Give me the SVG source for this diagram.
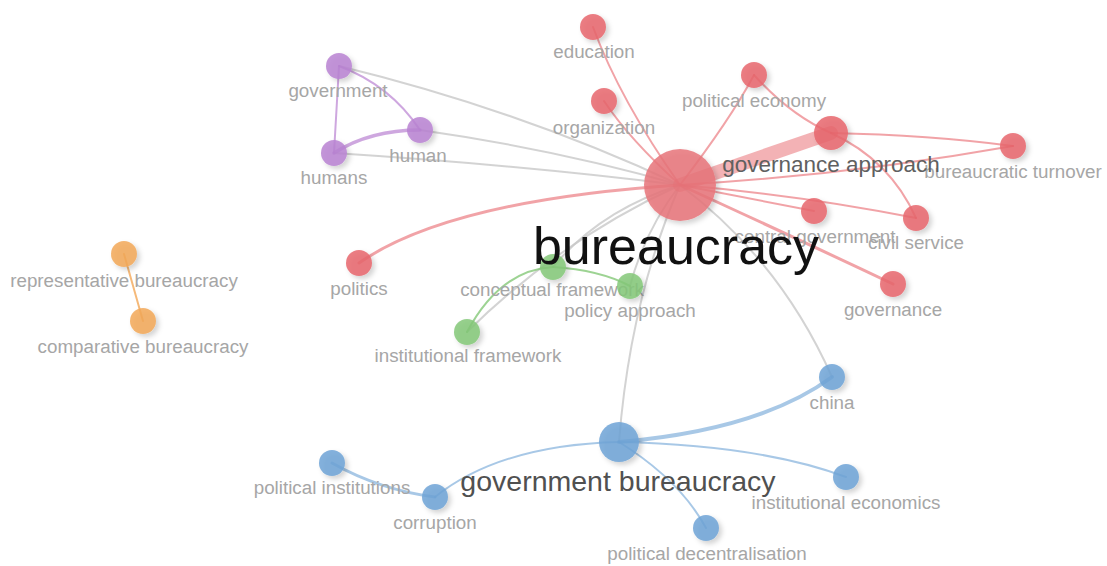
<svg xmlns="http://www.w3.org/2000/svg" width="1107" height="566" viewBox="0 0 1107 566">
<defs>
<filter id="sh" x="-50%" y="-50%" width="200%" height="200%">
<feDropShadow dx="3" dy="3" stdDeviation="2.5" flood-color="#000" flood-opacity="0.2"/>
</filter>
</defs>
<style>
text{font-family:"Liberation Sans",Arial,sans-serif;text-anchor:middle}
.lb{font-size:18.8px;fill:#a6a6a6}
.e{fill:none;stroke-linecap:round}
.g{stroke:#c8c8c8;stroke-opacity:0.8;stroke-width:2}
.r{stroke:#e8666c;stroke-opacity:0.6;stroke-width:2}
.p{stroke:#b982d2;stroke-opacity:0.7;stroke-width:2}
.gr{stroke:#84c878;stroke-opacity:0.8;stroke-width:2}
.o{stroke:#f2a858;stroke-opacity:0.8;stroke-width:2}
.b{stroke:#6ea3d6;stroke-opacity:0.6;stroke-width:2}
.nr{fill:#e8666c;fill-opacity:0.85;filter:url(#sh)}
.np{fill:#b982d2;fill-opacity:0.85;filter:url(#sh)}
.ng{fill:#84c878;fill-opacity:0.85;filter:url(#sh)}
.no{fill:#f2a858;fill-opacity:0.85;filter:url(#sh)}
.nb{fill:#6ea3d6;fill-opacity:0.85;filter:url(#sh)}
</style>
<rect width="1107" height="566" fill="#fff"/>
<g id="connectors">
<path class="e g" d="M680,185 Q520,110 339,66"/>
<path class="e g" d="M680,185 Q560,150 420,130"/>
<path class="e g" d="M680,185 Q520,165 334,153"/>
<path class="e g" d="M680,185 Q600,210 553,267"/>
<path class="e g" d="M680,185 Q560,240 467,332"/>
<path class="e g" d="M680,185 Q645,230 630,286"/>
<path class="e g" d="M680,185 Q630,300 619,442"/>
<path class="e g" d="M680,185 Q780,260 832,377"/>
<path class="e r" d="M680,185 Q620,100 593,27"/>
<path class="e r" d="M680,185 Q630,140 604,101"/>
<path class="e r" d="M680,185 Q730,120 754,75"/>
<path class="e r" style="stroke-width:14;stroke-opacity:0.5" d="M680,185 L831,133"/>
<path class="e r" d="M680,185 Q850,175 1013,146"/>
<path class="e r" d="M680,185 L814,211"/>
<path class="e r" d="M680,185 Q800,195 916,218"/>
<path class="e r" style="stroke-width:3" d="M680,185 Q800,240 893,284"/>
<path class="e r" style="stroke-width:3" d="M680,185 Q450,200 359,263"/>
<path class="e r" d="M754,75 Q790,115 831,133"/>
<path class="e r" d="M831,133 Q930,135 1013,146"/>
<path class="e r" d="M831,133 Q890,160 916,218"/>
<path class="e p" d="M339,66 L334,153"/>
<path class="e p" d="M339,66 Q390,85 420,130"/>
<path class="e p" style="stroke-width:3.5" d="M334,153 Q370,130 420,130"/>
<path class="e gr" d="M467,332 Q500,270 553,267"/>
<path class="e gr" d="M553,267 Q600,270 630,286"/>
<path class="e o" d="M124,254 L143,321"/>
<path class="e b" style="stroke-width:4" d="M619,442 Q760,430 832,377"/>
<path class="e b" d="M619,442 Q500,445 435,497"/>
<path class="e b" d="M619,442 Q760,445 846,477"/>
<path class="e b" d="M619,442 Q680,480 706,528"/>
<path class="e b" style="stroke-width:3" d="M435,497 Q380,490 332,463"/>
</g>
<g id="n-bureaucracy"><circle class="nr" cx="680" cy="185" r="36" style="fill:#e8747a"/></g>
<g id="n-governance-approach"><circle class="nr" cx="831" cy="133" r="17"/></g>
<g id="n-government-bureaucracy"><circle class="nb" cx="619" cy="442" r="20"/></g>
<g id="n-education"><circle class="nr" cx="593" cy="27" r="13"/><text class="lb" x="594" y="58">education</text></g>
<g id="n-organization"><circle class="nr" cx="604" cy="101" r="13"/><text class="lb" x="604" y="134">organization</text></g>
<g id="n-political-economy"><circle class="nr" cx="754" cy="75" r="13"/><text class="lb" x="754" y="107">political economy</text></g>
<g id="n-bureaucratic-turnover"><circle class="nr" cx="1013" cy="146" r="13"/><text class="lb" x="1013" y="178">bureaucratic turnover</text></g>
<g id="n-central-government"><circle class="nr" cx="814" cy="211" r="13"/><text class="lb" x="815" y="243">central government</text></g>
<g id="n-civil-service"><circle class="nr" cx="916" cy="218" r="13"/><text class="lb" x="916" y="249">civil service</text></g>
<g id="n-governance"><circle class="nr" cx="893" cy="284" r="13"/><text class="lb" x="893" y="316">governance</text></g>
<g id="n-politics"><circle class="nr" cx="359" cy="263" r="13"/><text class="lb" x="359" y="295">politics</text></g>
<g id="n-government"><circle class="np" cx="339" cy="66" r="13"/><text class="lb" x="338" y="97">government</text></g>
<g id="n-human"><circle class="np" cx="420" cy="130" r="13"/><text class="lb" x="418" y="162">human</text></g>
<g id="n-humans"><circle class="np" cx="334" cy="153" r="13"/><text class="lb" x="334" y="184">humans</text></g>
<g id="n-conceptual-framework"><circle class="ng" cx="553" cy="267" r="13"/><text class="lb" x="552" y="296">conceptual framework</text></g>
<g id="n-policy-approach"><circle class="ng" cx="630" cy="286" r="13"/><text class="lb" x="630" y="317">policy approach</text></g>
<g id="n-institutional-framework"><circle class="ng" cx="467" cy="332" r="13"/><text class="lb" x="468" y="362">institutional framework</text></g>
<g id="n-representative-bureaucracy"><circle class="no" cx="124" cy="254" r="13"/><text class="lb" x="124" y="287">representative bureaucracy</text></g>
<g id="n-comparative-bureaucracy"><circle class="no" cx="143" cy="321" r="13"/><text class="lb" x="143" y="353">comparative bureaucracy</text></g>
<g id="n-china"><circle class="nb" cx="832" cy="377" r="13"/><text class="lb" x="832" y="409">china</text></g>
<g id="n-political-institutions"><circle class="nb" cx="332" cy="463" r="13"/><text class="lb" x="332" y="494">political institutions</text></g>
<g id="n-corruption"><circle class="nb" cx="435" cy="497" r="13"/><text class="lb" x="435" y="529">corruption</text></g>
<g id="n-institutional-economics"><circle class="nb" cx="846" cy="477" r="13"/><text class="lb" x="846" y="509">institutional economics</text></g>
<g id="n-political-decentralisation"><circle class="nb" cx="706" cy="528" r="13"/><text class="lb" x="707" y="560">political decentralisation</text></g>
<g id="labels-main">
<text x="831" y="172" style="font-size:22.5px;fill:#606060">governance approach</text>
<text x="618" y="491" style="font-size:28.5px;fill:#505050">government bureaucracy</text>
<text x="676" y="264" style="font-size:52px;fill:#111">bureaucracy</text>
</g>
</svg>
